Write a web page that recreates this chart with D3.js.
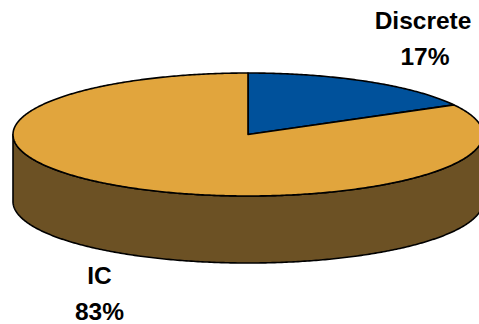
<!DOCTYPE html>
<html>
<head>
<meta charset="utf-8">
<script src="https://cdn.jsdelivr.net/npm/d3@7"></script>
<style>
  html, body { margin: 0; padding: 0; background: #fff; }
  svg { display: block; }
</style>
</head>
<body>
<svg id="chart" width="479" height="324"></svg>
<script>
// data
let categories = ["Discrete", "IC"]
let values = [17, 83]
let percentLabels = ["17%", "83%"]
let topColors = ["#00519B", "#E1A53D"]
let sideColors = ["#0A3563", "#6C5124"]

let width = 479, height = 324
let cx = 248, cy = 134.5
let rx = 235, ry = 61.5
let depth = 67

let svg = d3.select("#chart")

let pie = d3.pie().sort(null).value(d => d)
let arcs = pie(values)

// angle (d3 pie convention, 0 = 12 o'clock, clockwise) -> ellipse point
function pt(a, dy) {
    return [cx + rx * Math.sin(a), cy - ry * Math.cos(a) + (dy || 0)]
}

function sample(a0, a1, dy) {
    let n = Math.max(2, Math.ceil(Math.abs(a1 - a0) / 0.01))
    return d3.range(n + 1).map(i => pt(a0 + (a1 - a0) * i / n, dy))
}

let line = d3.line()

// side walls: front half is from PI/2 (3 o'clock) to 3PI/2 (9 o'clock)
arcs.forEach((d, i) => {
    let a0 = Math.max(d.startAngle, Math.PI / 2)
    let a1 = Math.min(d.endAngle, 3 * Math.PI / 2)
    if (a1 <= a0) return
    let pts = sample(a0, a1, 0).concat(sample(a1, a0, depth))
    svg.append("path")
        .attr("d", line(pts) + "Z")
        .attr("fill", sideColors[i])
        .attr("stroke", "#000")
        .attr("stroke-width", 1.6)
        .attr("stroke-linejoin", "round")
})

// tops
arcs.forEach((d, i) => {
    let pts = [[cx, cy]].concat(sample(d.startAngle, d.endAngle, 0))
    svg.append("path")
        .attr("d", line(pts) + "Z")
        .attr("fill", topColors[i])
        .attr("stroke", "#000")
        .attr("stroke-width", 1.6)
        .attr("stroke-linejoin", "round")
})

// labels: [name x, name baseline, pct x, pct baseline]
let labelPos = [[423, 29, 425, 65], [99.5, 284, 99.5, 320]]
arcs.forEach((d, i) => {
    let p = labelPos[i]
    let g = svg.append("g")
        .attr("text-anchor", "middle")
        .style("font-family", "Arial, 'Liberation Sans', sans-serif")
        .style("font-weight", "bold")
        .style("font-size", "24.5px")
        .attr("fill", "#000")
    g.append("text").attr("x", p[0]).attr("y", p[1]).text(categories[i])
    g.append("text").attr("x", p[2]).attr("y", p[3]).text(percentLabels[i])
})
</script>
</body>
</html>
